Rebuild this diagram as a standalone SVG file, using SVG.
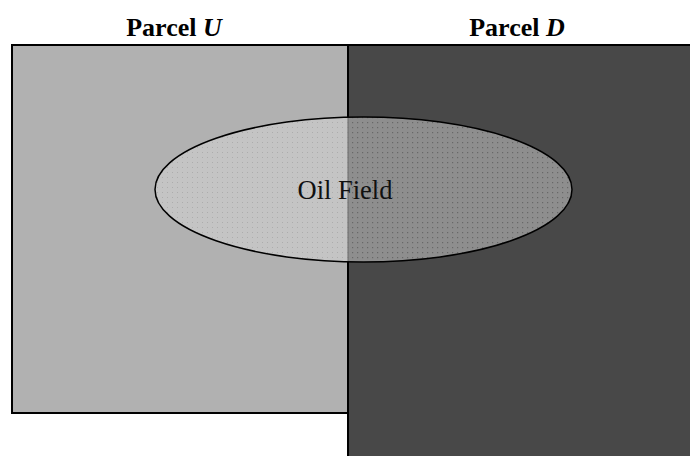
<svg xmlns="http://www.w3.org/2000/svg" width="690" height="456" viewBox="0 0 690 456">
  <style>
    .title { font-family: "Liberation Serif", "Times New Roman", serif; font-size: 26px; font-weight: bold; fill: #000; }
    .label { font-family: "Liberation Serif", "Times New Roman", serif; font-size: 26.5px; fill: #111; }
    .edge { stroke: #000; stroke-width: 2; }
  </style>
  <defs>
    <pattern id="dotsLight" width="5" height="5" patternUnits="userSpaceOnUse">
      <rect width="5" height="5" fill="#c4c4c4"/>
      <rect x="2" y="2" width="1" height="1" fill="#acacac"/>
    </pattern>
    <pattern id="dotsDark" width="5" height="5" patternUnits="userSpaceOnUse">
      <rect width="5" height="5" fill="#8e8e8e"/>
      <rect x="2" y="2" width="1.2" height="1.2" fill="#686868"/>
    </pattern>
    <clipPath id="leftHalf"><rect x="0" y="0" width="348" height="456"/></clipPath>
    <clipPath id="rightHalf"><rect x="348" y="0" width="342" height="456"/></clipPath>
  </defs>

  <rect width="690" height="456" fill="#fff"/>

  <g id="parcel-d">
    <rect x="348" y="45" width="350" height="420" fill="#484848" class="edge"/>
    <text x="517" y="36" text-anchor="middle" class="title">Parcel <tspan font-style="italic">D</tspan></text>
  </g>

  <g id="parcel-u">
    <rect x="12" y="45" width="336" height="368" fill="#b1b1b1" class="edge"/>
    <text x="174" y="36" text-anchor="middle" class="title">Parcel <tspan font-style="italic">U</tspan></text>
  </g>

  <g id="oil-field">
    <ellipse cx="363.5" cy="189.5" rx="208.5" ry="72.5" fill="url(#dotsLight)" clip-path="url(#leftHalf)"/>
    <ellipse cx="363.5" cy="189.5" rx="208.5" ry="72.5" fill="url(#dotsDark)" clip-path="url(#rightHalf)"/>
    <line x1="348" y1="117" x2="348" y2="262" stroke="#6a6a6a" stroke-width="1"/>
    <ellipse cx="363.5" cy="189.5" rx="208.5" ry="72.5" fill="none" stroke="#000" stroke-width="1.5"/>
    <text x="345" y="199" text-anchor="middle" class="label">Oil Field</text>
  </g>
</svg>
